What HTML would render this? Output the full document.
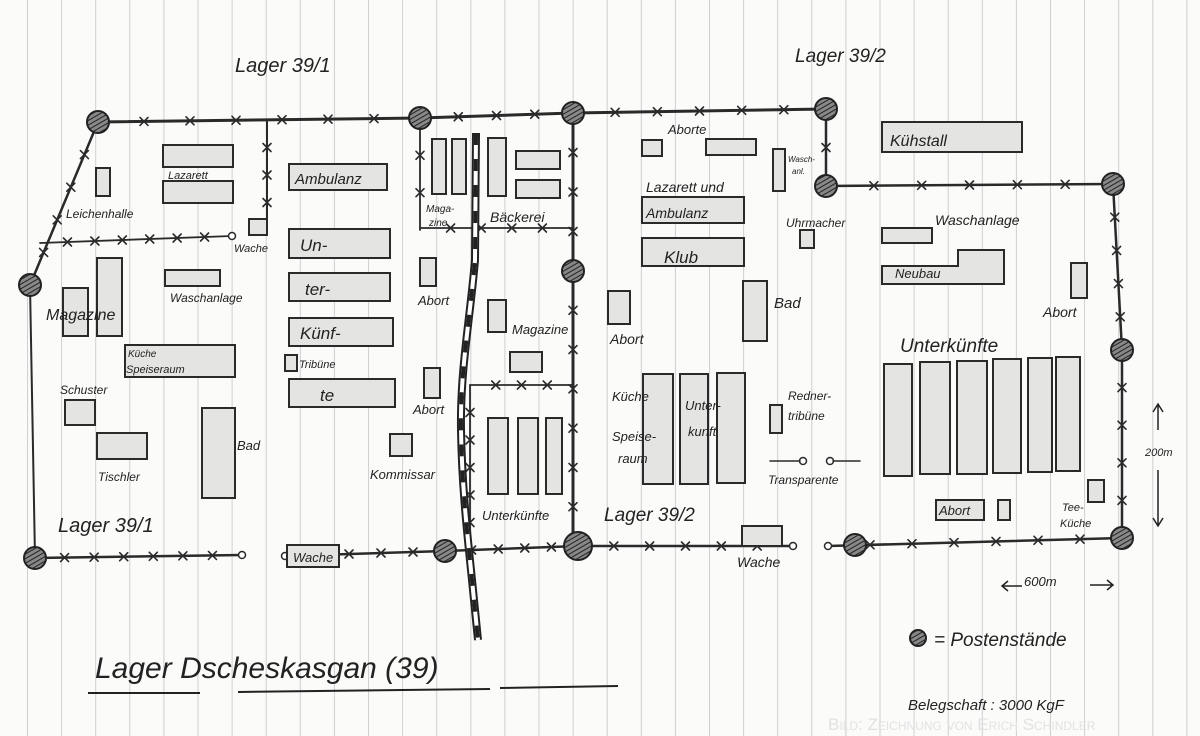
<!DOCTYPE html>
<html><head><meta charset="utf-8"><style>
html,body{margin:0;padding:0;background:#fbfbfa;}
svg{display:block}
text{font-family:"Liberation Sans",sans-serif;font-style:italic;fill:#222;}
</style></head><body>
<svg id="s" width="1200" height="736" viewBox="0 0 1200 736" xmlns="http://www.w3.org/2000/svg">
<defs>
<pattern id="lines" x="27" y="0" width="34.1" height="736" patternUnits="userSpaceOnUse">
<line x1="0.5" y1="0" x2="0.5" y2="736" stroke="#cfcfcf" stroke-width="1"/>
</pattern>
<pattern id="hatch" width="4" height="4" patternUnits="userSpaceOnUse" patternTransform="rotate(60)">
<rect width="4" height="4" fill="#888"/><line x1="0" y1="0" x2="0" y2="4" stroke="#222" stroke-width="2"/>
</pattern>
</defs>
<rect width="1200" height="736" fill="#fbfbfa"/>
<rect width="1200" height="736" fill="url(#lines)"/>
<g id="fences" fill="none" stroke="#2a2a2a" stroke-width="2.5" stroke-linecap="round"></g>
<g id="rail"></g>
<g id="bld" fill="#e4e4e2" stroke="#2a2a2a" stroke-width="2"></g>
<g id="posts"></g>
<g id="txt"></g>
</svg>
<script>
var NS="http://www.w3.org/2000/svg";
function el(p,t,a,txt){var e=document.createElementNS(NS,t);for(var k in a)e.setAttribute(k,a[k]);if(txt!==undefined)e.textContent=txt;document.getElementById(p).appendChild(e);return e;}
var F=[
[98,122,420,118,6,3],[420,118,573,113,3,3],[573,113,826,109,5,3],[826,109,826,186,1,2.5],[826,186,1113,184,5,2.5],
[1113,184,1122,350,4,2.5],[1122,350,1122,538,4,2.5],
[98,122,30,285,4,2.5],[30,285,35,558,0,2],
[35,558,242,555,6,2.5],[285,556,445,551,4,2.5],[445,551,578,546,4,2.5],[578,546,793,546,5,2.5],[828,546,1122,538,6,2.5],
[267,120,267,230,3,2],[40,243,232,236,6,1.8],
[573,113,573,271,3,3],[573,271,573,546,6,3],
[420,118,420,230,2,1.8],[420,228,573,228,4,1.8],
[470,385,573,385,3,1.8],[470,385,470,550,5,1.8]
];
F.forEach(function(f){
 el("fences","line",{x1:f[0],y1:f[1],x2:f[2],y2:f[3],"stroke-width":f[5]});
 for(var i=1;i<=f[4];i++){var t=i/(f[4]+1);var x=f[0]+(f[2]-f[0])*t,y=f[1]+(f[3]-f[1])*t;
  el("fences","path",{d:"M"+(x-4)+" "+(y-4)+"L"+(x+4)+" "+(y+4)+"M"+(x+4)+" "+(y-4)+"L"+(x-4)+" "+(y+4),"stroke-width":1.6});}
});
[[242,555],[285,556],[793,546],[828,546],[232,236],[803,461],[830,461]].forEach(function(c){el("fences","circle",{cx:c[0],cy:c[1],r:3.5,fill:"#fff","stroke-width":1.5});});
el("fences","line",{x1:770,y1:461,x2:800,y2:461,"stroke-width":1.5});
el("fences","line",{x1:833,y1:461,x2:860,y2:461,"stroke-width":1.5});
var rp="M476 133 L475 260 C470 320 460 370 461 430 C462 490 468 540 472 580 L478 640";
el("rail","path",{d:rp,fill:"none",stroke:"#222","stroke-width":8});
el("rail","path",{d:rp,fill:"none",stroke:"#fff","stroke-width":4});
el("rail","path",{d:rp,fill:"none",stroke:"#222","stroke-width":4,"stroke-dasharray":"12 14"});
var B=[[163,145,70,22],[163,181,70,22],[96,168,14,28],[249,219,18,16],[97,258,25,78],[63,288,25,48],[165,270,55,16],[125,345,110,32],[65,400,30,25],[97,433,50,26],[202,408,33,90],
[289,164,98,26],[289,229,101,29],[289,273,101,28],[289,318,104,28],[289,379,106,28],[285,355,12,16],[390,434,22,22],[420,258,16,28],[424,368,16,30],[287,545,52,22],
[432,139,14,55],[452,139,14,55],[488,138,18,58],[516,151,44,18],[516,180,44,18],[488,300,18,32],[510,352,32,20],[488,418,20,76],[518,418,20,76],[546,418,16,76],
[642,140,20,16],[706,139,50,16],[773,149,12,42],[642,197,102,26],[642,238,102,28],[608,291,22,33],[743,281,24,60],[643,374,30,110],[680,374,28,110],[717,373,28,110],[770,405,12,28],[742,526,40,20],
[882,122,140,30],[800,230,14,18],[882,228,50,15],[1071,263,16,35],[884,364,28,112],[920,362,30,112],[957,361,30,113],[993,359,28,114],[1028,358,24,114],[1056,357,24,114],[936,500,48,20],[998,500,12,20],[1088,480,16,22]];
B.forEach(function(b){el("bld","rect",{x:b[0],y:b[1],width:b[2],height:b[3]});});
el("bld","path",{d:"M882 266 L958 266 L958 250 L1004 250 L1004 284 L882 284 Z"});
[[98,122],[420,118],[573,113],[826,109],[826,186],[1113,184],[30,285],[573,271],[1122,350],[35,558],[445,551],[578,546],[855,545],[1122,538],[918,638]].forEach(function(p){
 var r=(p[0]==918)?8:(p[0]==578?14:11);
 el("posts","circle",{cx:p[0],cy:p[1],r:r,fill:"url(#hatch)",stroke:"#222","stroke-width":2});});
var T=[[235,72,20,"Lager 39/1"],[795,62,19,"Lager 39/2"],[168,179,11,"Lazarett"],[66,218,12,"Leichenhalle"],[234,252,11,"Wache"],[170,302,12,"Waschanlage"],[46,320,16,"Magazine"],
[128,357,10,"Küche"],[126,373,11,"Speiseraum"],[60,394,12,"Schuster"],[98,481,12,"Tischler"],[237,450,13,"Bad"],[58,532,20,"Lager 39/1"],
[295,184,15,"Ambulanz"],[300,251,17,"Un-"],[305,295,17,"ter-"],[300,339,17,"Künf-"],[320,401,17,"te"],[299,368,11,"Tribüne"],[370,479,13,"Kommissar"],
[418,305,13,"Abort"],[413,414,13,"Abort"],[426,212,10,"Maga-"],[429,226,10,"zine"],[490,222,14,"Bäckerei"],[512,334,13,"Magazine"],[482,520,13,"Unterkünfte"],
[604,521,19,"Lager 39/2"],[737,567,14,"Wache"],[293,562,13,"Wache"],[668,134,13,"Aborte"],[646,192,14,"Lazarett und"],[646,218,14,"Ambulanz"],[664,263,17,"Klub"],
[774,308,15,"Bad"],[610,344,14,"Abort"],[612,401,13,"Küche"],[612,441,13,"Speise-"],[618,463,13,"raum"],[685,410,13,"Unter-"],[688,436,13,"kunft"],
[788,162,8,"Wasch-"],[792,174,8,"anl."],[786,227,12,"Uhrmacher"],[935,225,14,"Waschanlage"],[895,278,13,"Neubau"],[1043,317,14,"Abort"],[900,352,19,"Unterkünfte"],
[890,146,16,"Kühstall"],[788,400,12,"Redner-"],[788,420,12,"tribüne"],[768,484,12,"Transparente"],[1062,511,11,"Tee-"],[1060,527,11,"Küche"],[939,515,13,"Abort"],
[1145,456,11,"200m"],[1024,586,13,"600m"],[934,646,19,"= Postenstände"],[908,710,15,"Belegschaft : 3000 KgF"]];
T.forEach(function(t){el("txt","text",{x:t[0],y:t[1],"font-size":t[2]},t[3]);});
el("txt","text",{x:95,y:678,"font-size":30},"Lager  Dscheskasgan  (39)");
el("txt","line",{x1:88,y1:693,x2:200,y2:693,stroke:"#222","stroke-width":2});
el("txt","line",{x1:238,y1:692,x2:490,y2:689,stroke:"#222","stroke-width":2});
el("txt","line",{x1:500,y1:688,x2:618,y2:686,stroke:"#222","stroke-width":2});
el("txt","text",{x:828,y:730,"font-size":17,style:"font-style:normal;font-variant:small-caps;fill:#e2e2e2"},"Bild: Zeichnung von Erich Schindler");
el("txt","path",{d:"M1158 405 L1158 430 M1153 412 L1158 404 L1163 412 M1158 470 L1158 526 M1153 518 L1158 526 L1163 518 M1002 586 L1022 586 M1008 581 L1002 586 L1008 591 M1090 585 L1113 585 M1107 580 L1113 585 L1107 590",fill:"none",stroke:"#222","stroke-width":1.5});
</script>
</body></html>
